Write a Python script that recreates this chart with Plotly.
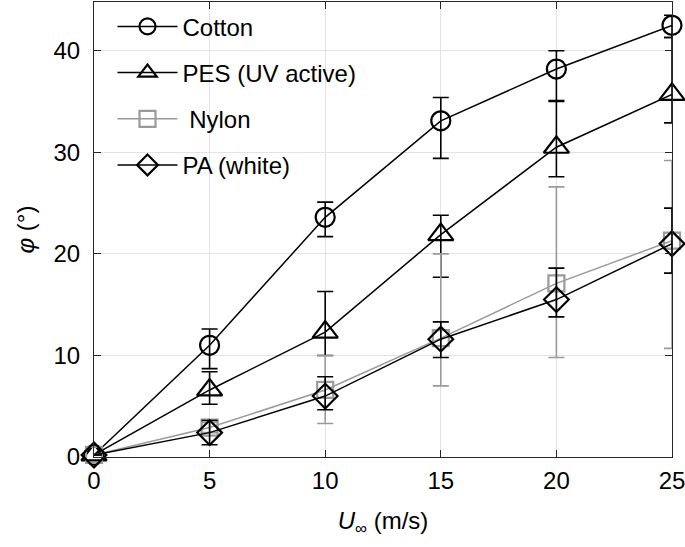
import plotly.graph_objects as go

speed = [0, 5, 10, 15, 20, 25]

cotton = [0.2, 11.0, 23.6, 33.1, 38.2, 42.5]
cotton_plus = [0.0, 1.6, 1.5, 2.3, 1.8, 1.0]
cotton_minus = [0.0, 2.3, 1.9, 3.7, 3.2, 1.2]

pes = [0.2, 6.6, 12.3, 21.9, 30.5, 35.7]
pes_plus = [0.0, 1.8, 4.0, 1.9, 4.6, 5.6]
pes_minus = [0.0, 1.4, 2.3, 4.2, 2.9, 2.8]

nylon = [0.2, 2.9, 6.6, 11.7, 17.1, 21.3]
nylon_plus = [0.0, 0.5, 3.4, 8.3, 9.5, 7.9]
nylon_minus = [0.0, 0.5, 3.3, 4.7, 7.3, 10.6]

pa = [0.2, 2.4, 6.0, 11.6, 15.5, 21.0]
pa_plus = [0.0, 1.2, 1.9, 1.7, 3.1, 3.5]
pa_minus = [0.0, 1.2, 1.35, 1.8, 1.7, 2.9]

x_ticks = [0, 5, 10, 15, 20, 25]
y_ticks = [0, 10, 20, 30, 40]

series = [
    ("Cotton", cotton, cotton_plus, cotton_minus, "circle-open", 19, "black"),
    ("PES (UV active)", pes, pes_plus, pes_minus, "triangle-up-open", 22, "black"),
    (" Nylon", nylon, nylon_plus, nylon_minus, "square-open", 16, "#9a9a9a"),
    ("PA (white)", pa, pa_plus, pa_minus, "diamond-open", 19, "black"),
]

fig = go.Figure()
for i, (name, y, ep, em, sym, size, col) in enumerate(series):
    fig.add_trace(go.Scatter(
        x=speed, y=y, name=name, mode="lines+markers",
        legendgroup=f"g{i}",
        line=dict(color=col, width=1.5),
        marker=dict(symbol=sym, size=size, color=col, line=dict(color=col, width=2.2)),
        error_y=dict(type="data", symmetric=False, array=ep, arrayminus=em,
                     color=col, thickness=1.6, width=8),
        cliponaxis=False,
    ))

axis_common = dict(
    showline=True, linecolor="#262626", linewidth=1, mirror="ticks",
    ticks="inside", ticklen=7, tickcolor="#262626",
    showgrid=True, gridcolor="#e3e3e3", gridwidth=1,
    zeroline=False, automargin=False, ticklabeloverflow="allow",
    tickfont=dict(size=24, color="black", family="Liberation Sans"),
)

fig.update_xaxes(range=[0, 25], tickvals=x_ticks, ticklabelstandoff=2,
                 title=dict(text="<i>U</i><sub>∞</sub> (m/s)", standoff=19,
                            font=dict(size=24, color="black", family="Liberation Sans")),
                 **axis_common)
fig.update_yaxes(range=[0, 44.8], tickvals=y_ticks, ticklabelstandoff=8,
                 title=dict(text="<i>φ</i> (°)", standoff=12,
                            font=dict(size=24, color="black", family="Liberation Sans")),
                 **axis_common)

fig.update_layout(
    width=685, height=547,
    margin=dict(l=94, r=13, t=2, b=90),
    paper_bgcolor="white", plot_bgcolor="white",
    font=dict(family="Liberation Sans", size=24, color="black"),
    showlegend=True,
    legend=dict(x=0.032, y=0.995, xanchor="left", yanchor="top",
                bgcolor="rgba(255,255,255,0)", borderwidth=0,
                traceorder="grouped", tracegroupgap=12, itemwidth=60,
                font=dict(size=24, color="black", family="Liberation Sans")),
)

fig.write_html("out.html", config={"displayModeBar": False},
               post_script="document.body.style.margin='0';document.body.style.overflow='hidden';")
